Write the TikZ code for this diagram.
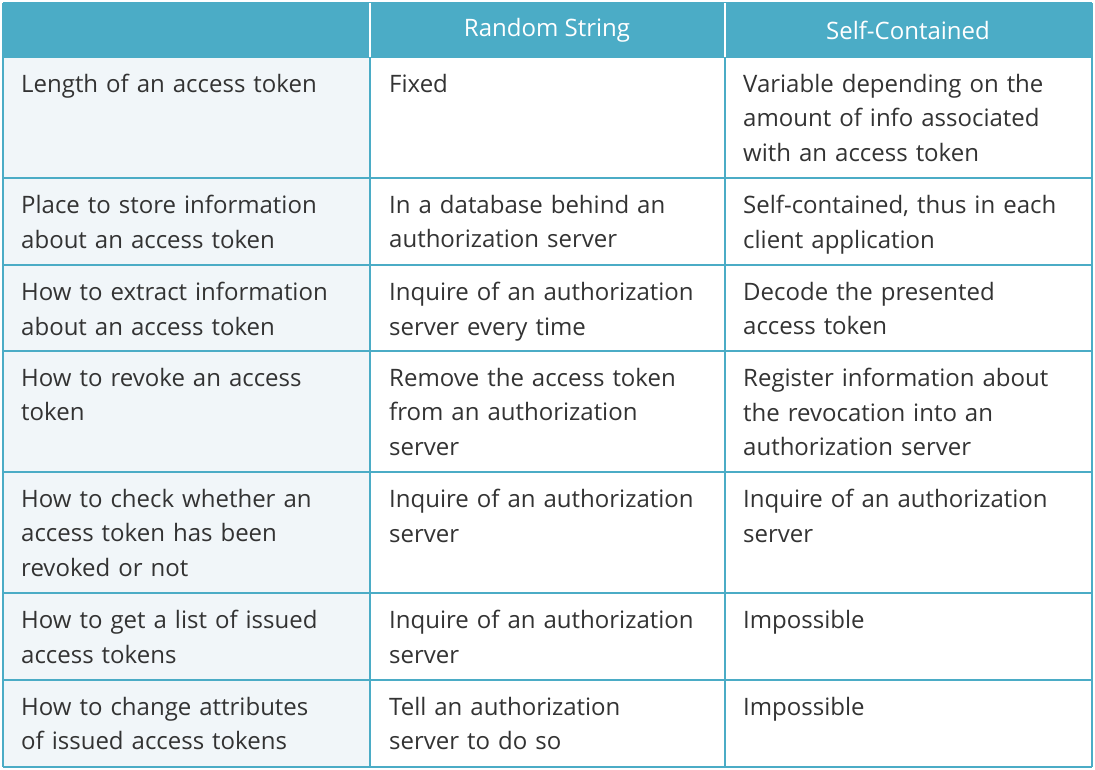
\documentclass[tikz,border=0pt]{standalone}
\usepackage{fontspec}
\setmainfont{Open Sans}
\definecolor{hd}{HTML}{4BACC6}
\definecolor{fc}{HTML}{F1F6F9}
\definecolor{tx}{HTML}{333333}
\begin{document}
\begin{tikzpicture}[x=1pt,y=-1pt,
 cell/.style={anchor=north west,inner sep=0pt,text width=345pt,align=left,font=\fontsize{24}{34.5}\selectfont,text=tx},
 head/.style={font=\fontsize{24}{28}\selectfont,text=white},
 rule/.style={draw=hd,line width=1.2pt}]
\useasboundingbox (0,0) rectangle (1095,769);
\fill[white] (0,0) rectangle (1095,769);
\fill[hd] (3,3) rectangle (1092,57);
\fill[fc] (3,57) rectangle (370,767);
\foreach \y in {57,178,265,351,472,593,680,767} \draw[rule] (3,\y) -- (1092,\y);
\draw[rule] (3,3) -- (1092,3);
\foreach \x in {3,1092} \draw[rule] (\x,3) -- (\x,767);
\draw[draw=white,line width=1.4pt] (370,3) -- (370,57) (725,3) -- (725,57);
\draw[rule] (370,57) -- (370,767) (725,57) -- (725,767);
\node[head] (h1) at (547,30) {Random String};
\node[head] (h2) at (908,30) {Self-Contained};
\newcommand\rowtext[4]{%
 \node[cell] (a#1) at (21,#2) {#3};}
\newcommand\rowb[3]{\node[cell] (b#1) at (389,#2) {#3};}
\newcommand\rowc[3]{\node[cell] (c#1) at (743,#2) {#3};}
\rowtext{1}{74}{Length of an access token}{}
\rowb{1}{74}{Fixed}
\rowc{1}{74}{Variable depending on the\\amount of info associated\\with an access token}
\rowtext{2}{195}{Place to store information\\about an access token}{}
\rowb{2}{195}{In a database behind an\\authorization server}
\rowc{2}{195}{Self-contained, thus in each\\client application}
\rowtext{3}{282}{How to extract information\\about an access token}{}
\rowb{3}{282}{Inquire of an authorization\\server every time}
\rowc{3}{282}{Decode the presented\\access token}
\rowtext{4}{368}{How to revoke an access\\token}{}
\rowb{4}{368}{Remove the access token\\from an authorization\\server}
\rowc{4}{368}{Register information about\\the revocation into an\\authorization server}
\rowtext{5}{489}{How to check whether an\\access token has been\\revoked or not}{}
\rowb{5}{489}{Inquire of an authorization\\server}
\rowc{5}{489}{Inquire of an authorization\\server}
\rowtext{6}{610}{How to get a list of issued\\access tokens}{}
\rowb{6}{610}{Inquire of an authorization\\server}
\rowc{6}{610}{Impossible}
\rowtext{7}{697}{How to change attributes\\of issued access tokens}{}
\rowb{7}{697}{Tell an authorization\\server to do so}
\rowc{7}{697}{Impossible}
\end{tikzpicture}
\end{document}
